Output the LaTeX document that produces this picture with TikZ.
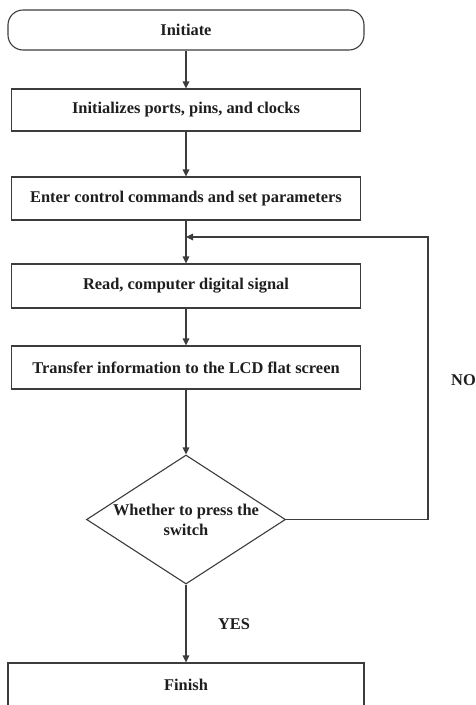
\documentclass[tikz,border=0pt]{standalone}
\usepackage{fontspec}
\setmainfont{Liberation Serif}
\usetikzlibrary{arrows.meta,shapes.geometric}
\definecolor{linegray}{RGB}{60,60,60}
\definecolor{inkgray}{RGB}{30,30,30}
\begin{document}
\begin{tikzpicture}[x=1pt,y=-1pt,
  every node/.style={font=\bfseries\fontsize{16.4}{19}\selectfont, text=inkgray},
  outline/.style={draw=linegray, line width=1.1pt, inner sep=0pt, fill=white},
  terminal/.style={outline, rounded corners=15pt, minimum width=356pt, minimum height=40pt},
  stepbox/.style={outline, minimum width=349pt, minimum height=43pt},
  decision/.style={outline, diamond, aspect=1.54, inner sep=-5pt,
    minimum width=199pt, minimum height=129pt, align=center,
    font=\bfseries\fontsize{16.4}{20}\selectfont},
  flow/.style={draw=linegray, line width=1.1pt, -{Triangle[length=7pt,width=6.5pt]}},
  tag/.style={inner sep=0pt}
]
\clip (0,0) rectangle (476,705);
\fill[white] (0,0) rectangle (476,705);

% process chain
\node[terminal] (init) at (186,30)    {Initiate};
\node[stepbox, minimum height=42pt] (ports) at (186,110) {Initializes ports, pins, and clocks};
\node[stepbox] (cmds)  at (186,198.5) {Enter control commands and set parameters};
\node[stepbox, minimum height=44pt] (read)  at (186,286) {Read, computer digital signal};
\node[stepbox] (lcd)   at (186,367.5) {Transfer information to the LCD flat screen};
\node[decision] (sw)   at (186,519.5) {Whether to press the\\switch};
\node[outline, minimum width=356pt, minimum height=44pt] (fin) at (186,685) {Finish};

% loop-back points
\coordinate (join)  at (186,237);
\coordinate (loopR) at (428,237);

% connectors
\draw[flow] (init) -- (ports);
\draw[flow] (ports) -- (cmds);
\draw[flow] (cmds) -- (read);
\draw[flow] (read) -- (lcd);
\draw[flow] (lcd) -- (sw);
\draw[flow] (sw) -- (fin);
\draw[flow] (sw.east) -| (loopR) -- (join);

% branch labels
\node[tag] (yes) at (234,624) {YES};
\node[tag] (no)  at (463.5,380) {NO};
\end{tikzpicture}
\end{document}
